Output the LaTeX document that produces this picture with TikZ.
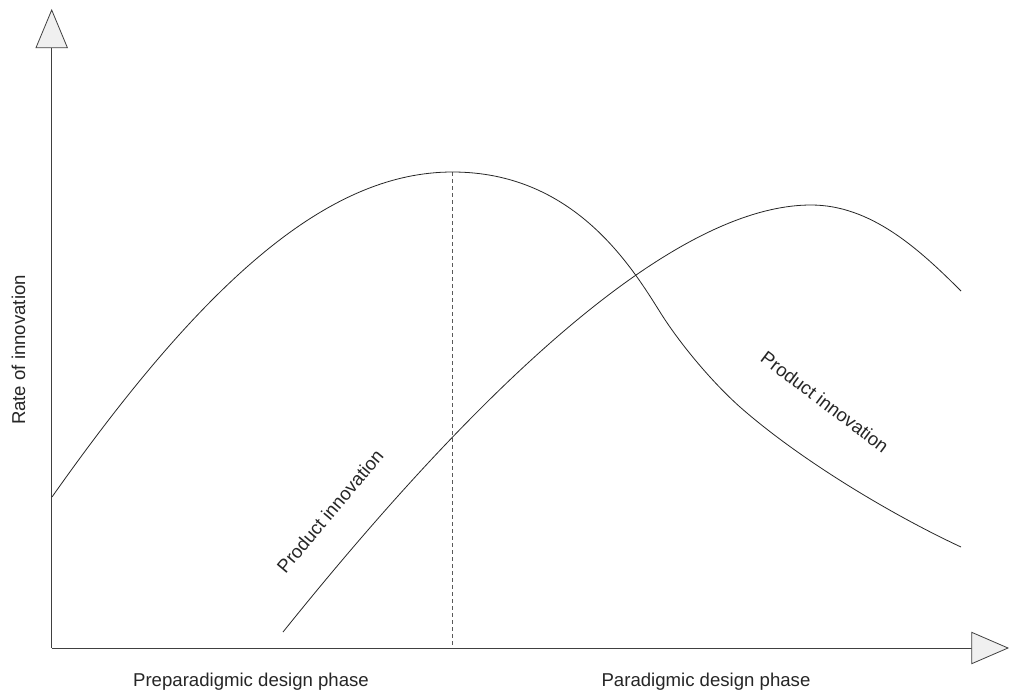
\documentclass[tikz,border=0pt]{standalone}
\usepackage{fontspec}
\setmainfont{Liberation Sans}
\begin{document}
\begin{tikzpicture}[x=1pt,y=-1pt,
  axisline/.style={draw=black!75,line width=0.8pt},
  tip/.style={draw=black!75,line width=0.8pt,fill=black!6,line join=miter},
  curve/.style={draw=black!85,line width=0.8pt},
  guide/.style={draw=black!65,line width=0.8pt,dash pattern=on 4pt off 3pt},
  lbl/.style={text=black!85,font=\fontsize{18.6}{22}\selectfont,inner sep=0pt}]
\useasboundingbox (0,0) rectangle (1009,691);
\fill[white] (0,0) rectangle (1009,691);
% axes
\coordinate (O) at (51.7,648);
\coordinate (ytop) at (51.7,47.7);
\coordinate (xend) at (971.7,648);
\draw[axisline] (O) -- (ytop);
\draw[axisline] (O) -- (xend);
\draw[tip] (36,47.7) -- (51.7,10) -- (67.4,47.7) -- cycle;
\draw[tip] (971.7,632.3) -- (1008,648) -- (971.7,663.7) -- cycle;
% dashed guide
\coordinate (peak) at (452.5,172);
\coordinate (foot) at (452.5,648);
\draw[guide] (peak) -- (foot);
% curve 1
\coordinate (a0) at (52,497);
\coordinate (a1) at (660,312);
\coordinate (a2) at (740,407);
\coordinate (a3) at (961,547);
\draw[curve] (a0) .. controls (207,277) and (330,172) .. (peak)
  .. controls (572.5,172) and (630,264) .. (a1)
  .. controls (680,344) and (712,382) .. (a2)
  .. controls (800,459.8) and (891,514.4) .. (a3);
% curve 2
\coordinate (b0) at (283,632);
\coordinate (b1) at (811,205);
\coordinate (b2) at (961,291);
\draw[curve] (b0) .. controls (548,302) and (711,205) .. (b1)
  .. controls (871,205) and (919,249) .. (b2);
% labels
\node[lbl,rotate=50] (pil) at (330,511) {Product innovation};
\node[lbl,rotate=-37] (pir) at (825,402) {Product innovation};
\node[lbl,rotate=90,anchor=base] (rate) at (25,350) {Rate of innovation};
\node[lbl,anchor=base] (pre) at (251,686) {Preparadigmic design phase};
\node[lbl,anchor=base] (par) at (706,686) {Paradigmic design phase};
\end{tikzpicture}
\end{document}
